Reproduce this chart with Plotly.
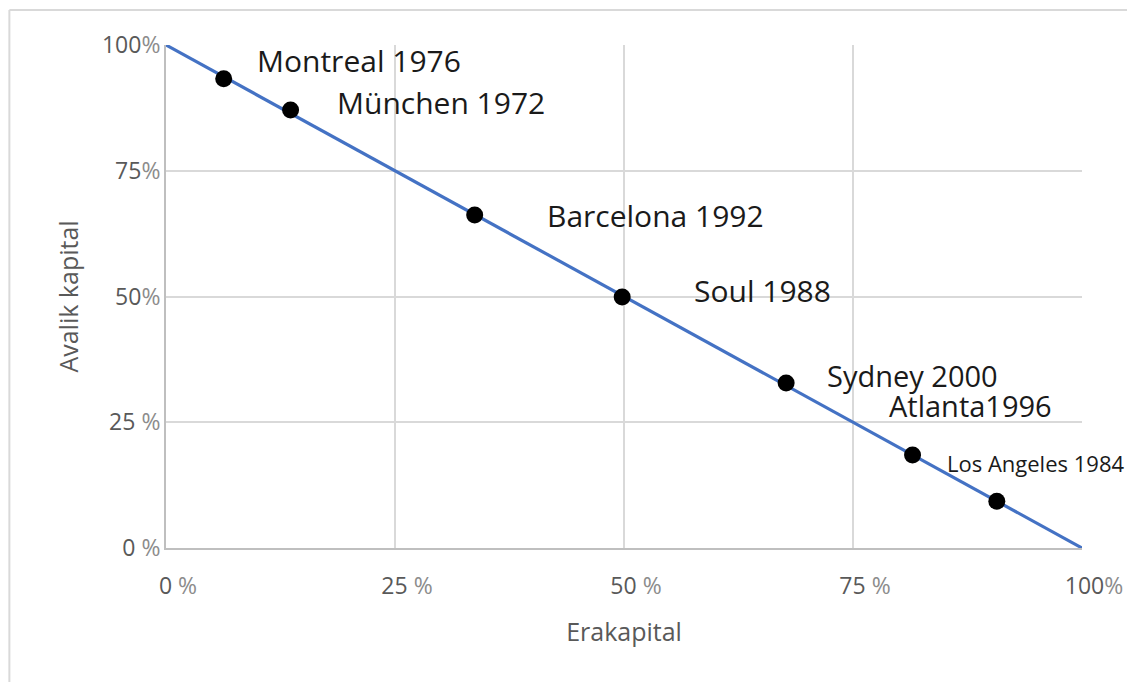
import plotly.graph_objects as go

# ---- data ----
games = ["Montreal 1976", "München 1972", "Barcelona 1992", "Soul 1988",
         "Sydney 2000", "Atlanta1996", "Los Angeles 1984"]
private_share = [6.3, 13.6, 33.7, 49.8, 67.7, 81.5, 90.7]   # Erakapital %
public_share = [93.3, 87.1, 66.2, 49.9, 32.8, 18.5, 9.3]   # Avalik kapital %
line_x = [0, 100]
line_y = [100, 0]
tick_vals = [0, 25, 50, 75, 100]
x_tick_labels = ["0 %", "25 %", "50 %", "75 %", "100%"]
y_tick_labels = ["0 %", "25 %", "50%", "75%", "100%"]

# label placement (pixel offsets from each point) and sizes
label_dx = [31, 44, 70, 70, 39, -26, -52]
label_dy = [18, 7, 0, 7, 8, 49, 38]
label_size = [30, 30, 30, 30, 29, 29, 22]

DIG = "#595959"
PCT = "#8c8c8c"


def fmt(t):
    num = t.replace("%", "").rstrip()
    sp = " " if " " in t else ""
    return f"<span style='color:{DIG}'>{num}</span>{sp}<span style='color:{PCT}'>%</span>"


fig = go.Figure()
fig.add_trace(go.Scatter(x=line_x, y=line_y, mode="lines",
                         line=dict(color="#4472C4", width=3.2),
                         hoverinfo="skip", showlegend=False, cliponaxis=False))
fig.add_trace(go.Scatter(x=private_share, y=public_share, mode="markers",
                         marker=dict(color="black", size=17),
                         text=games, showlegend=False, cliponaxis=False))

for g, x, y, dx, dy, s in zip(games, private_share, public_share, label_dx, label_dy, label_size):
    fig.add_annotation(x=x, y=y, text=g, showarrow=False, xanchor="left", yanchor="middle",
                       xshift=dx, yshift=dy, font=dict(size=s, color="#1a1a1a"))

# outer frame lines
fig.add_shape(type="line", xref="paper", yref="paper", x0=-0.171, x1=1.06, y0=1.0696, y1=1.0696,
              line=dict(color="#d9d9d9", width=2))
fig.add_shape(type="line", xref="paper", yref="paper", x0=-0.171, x1=-0.171, y0=1.0696, y1=-0.28,
              line=dict(color="#d9d9d9", width=2))

fig.update_layout(
    width=1127, height=674,
    margin=dict(l=158, r=51, t=37, b=134),
    paper_bgcolor="white", plot_bgcolor="white",
    font=dict(family="Open Sans", color=DIG),
    xaxis=dict(range=[0, 100], tickvals=tick_vals, ticktext=[fmt(t) for t in x_tick_labels],
               showgrid=True, gridcolor="#d9d9d9", gridwidth=2, zeroline=False,
               showline=True, linecolor="#bfbfbf", linewidth=2,
               ticks="", ticklabelstandoff=16, ticklabelshift=12,
               tickfont=dict(size=23, color=DIG),
               title=dict(text="Erakapital", font=dict(size=25, color=DIG), standoff=24)),
    yaxis=dict(range=[0, 100], tickvals=tick_vals, ticktext=[fmt(t) for t in y_tick_labels],
               showgrid=True, gridcolor="#d9d9d9", gridwidth=2, zeroline=False,
               showline=True, linecolor="#bfbfbf", linewidth=2,
               ticks="", ticklabelstandoff=-1,
               tickfont=dict(size=23, color=DIG),
               title=dict(text="Avalik kapital", font=dict(size=25, color=DIG), standoff=16)),
)

fig.write_html("out.html")
